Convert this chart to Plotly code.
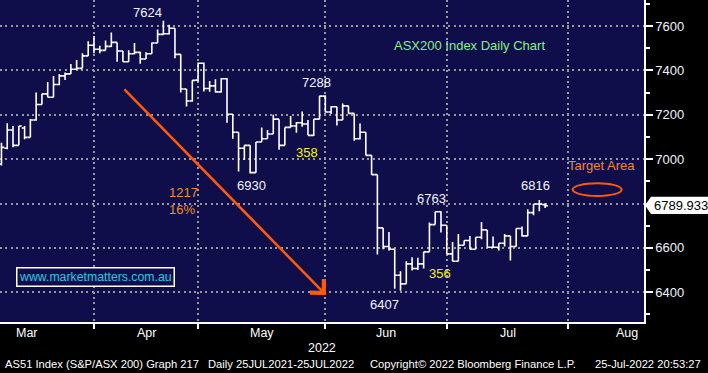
import pandas as pd
import plotly.graph_objects as go

# ---------------- data ----------------
open_ = [6978, 7049, 7131, 7062, 7140, 7098, 7176, 7246, 7294, 7279, 7336, 7375, 7384, 7405, 7409, 7465,
         7513, 7495, 7490, 7508, 7526, 7487, 7439, 7475, 7481, 7451, 7475, 7523, 7562, 7565, 7590, 7472, 7316, 7262,
         7356, 7432, 7318, 7330, 7303, 7362, 7202, 7121, 7049, 7062, 6939, 7077, 7092, 7113, 7180, 7062, 7143, 7149,
         7164, 7158, 7107, 7180,
         7284, 7212, 7236, 7176, 7240, 7206, 7092, 7121, 7017, 6930, 6690, 6606, 6594, 6477, 6438, 6528, 6507, 6528,
         6582, 6705, 6763,
         6702, 6573, 6540, 6612, 6633, 6594, 6648, 6681, 6603, 6603, 6621, 6654, 6606, 6687, 6654, 6759, 6798, 6795]
high = [7074, 7162, 7149, 7149, 7149, 7181, 7300, 7294, 7348, 7375, 7384, 7390, 7429, 7447, 7477, 7531,
        7555, 7511, 7535, 7571, 7526, 7487, 7490, 7523, 7484, 7481, 7526, 7584, 7624, 7605, 7590, 7472, 7316, 7355,
        7435, 7435, 7352, 7360, 7366, 7365, 7202, 7121, 7062, 7062, 7077, 7143, 7131, 7200, 7180, 7143, 7194, 7167,
        7215, 7176, 7180, 7285,
        7288, 7238, 7236, 7251, 7240, 7206, 7161, 7121, 7017, 6930, 6690, 6672, 6594, 6495, 6540, 6558, 6555, 6582,
        6714, 6763, 6765,
        6702, 6627, 6663, 6633, 6654, 6648, 6717, 6681, 6651, 6621, 6663, 6654, 6687, 6696, 6774, 6798, 6816, 6801]
low = [6971, 7044, 7053, 7062, 7089, 7098, 7173, 7246, 7279, 7279, 7333, 7357, 7384, 7405, 7409, 7465,
       7477, 7477, 7490, 7505, 7439, 7439, 7439, 7472, 7430, 7451, 7475, 7523, 7560, 7562, 7454, 7300, 7237, 7259,
       7350, 7305, 7303, 7300, 7300, 7164, 7092, 6944, 6996, 6935, 6939, 7077, 7092, 7113, 7042, 7062, 7143, 7119,
       7146, 7107, 7104, 7180,
       7210, 7203, 7152, 7176, 7206, 7083, 7088, 7017, 6930, 6570, 6594, 6588, 6416, 6407, 6438, 6498, 6500, 6507,
       6582, 6705, 6669,
       6573, 6540, 6540, 6612, 6594, 6594, 6639, 6603, 6603, 6588, 6606, 6543, 6606, 6651, 6654, 6747, 6765, 6780]
close = [7053, 7131, 7062, 7149, 7098, 7176, 7246, 7294, 7279, 7336, 7375, 7384, 7405, 7409, 7465, 7513,
         7495, 7490, 7508, 7526, 7487, 7439, 7475, 7481, 7451, 7475, 7523, 7562, 7565, 7590, 7472, 7316, 7262, 7355,
         7432, 7318, 7330, 7303, 7362, 7202, 7121, 7049, 7062, 6939, 7077, 7092, 7113, 7180, 7062, 7143, 7149, 7164,
         7158, 7107, 7180, 7284,
         7212, 7236, 7176, 7240, 7206, 7092, 7121, 7017, 6930, 6690, 6606, 6594, 6477, 6438, 6528, 6507, 6528, 6582,
         6705, 6763, 6702,
         6573, 6540, 6612, 6633, 6594, 6648, 6681, 6603, 6603, 6621, 6654, 6606, 6687, 6654, 6759, 6798, 6798, 6789.933]

holidays = ["2022-04-15", "2022-04-18", "2022-04-25", "2022-06-13"]
calendar = [d for d in pd.bdate_range("2022-03-10", "2022-08-31") if d.strftime("%Y-%m-%d") not in holidays]
dates = calendar[:len(close)]
month_names = ["Mar", "Apr", "May", "Jun", "Jul", "Aug"]
y_ticks = [6400, 6600, 6800, 7000, 7200, 7400, 7600]
y_minor = [6300, 6500, 6700, 6900, 7100, 7300, 7500, 7700]
last_price = 6789.933

# ---------------- derived positions ----------------
idx = list(range(len(close)))
month_start = []
for i in range(1, len(calendar)):
    if calendar[i].month != calendar[i - 1].month:
        month_start.append(i)

BG = "#100e4a"
FONT = "Liberation Sans, Arial, sans-serif"
WHITE_TXT = "#f0f4ff"

fig = go.Figure(go.Ohlc(
    x=idx, open=open_, high=high, low=low, close=close,
    text=[d.strftime("%d %b %Y") for d in dates],
    increasing=dict(line=dict(color="white", width=1.6)),
    decreasing=dict(line=dict(color="white", width=1.6)),
    tickwidth=0.5, showlegend=False,
))

grid = dict(showgrid=True, gridcolor="#9a9a9a", gridwidth=2, griddash="2px,3.4px")

fig.update_layout(
    width=708, height=373,
    margin=dict(l=0, r=64, t=0, b=51),
    paper_bgcolor="black", plot_bgcolor=BG,
    font=dict(family=FONT, color="white", size=13),
    xaxis=dict(range=[-0.25, 111.1], tickmode="array", tickvals=month_start, ticktext=[""] * len(month_start),
               ticks="outside", ticklen=5, tickwidth=1.5, tickcolor="white",
               showline=True, linecolor="white", linewidth=1.5, zeroline=False,
               rangeslider=dict(visible=False), **grid),
    yaxis=dict(range=[6266, 7717], side="right", tickmode="array", tickvals=y_ticks,
               ticktext=[("" if v == 6800 else str(v)) for v in y_ticks],
               ticks="outside", ticklen=7, tickwidth=2, tickcolor="white",
               tickfont=dict(size=13, color=WHITE_TXT),
               minor=dict(tickvals=y_minor, ticks="outside", ticklen=4, tickwidth=1.5, tickcolor="white", showgrid=False),
               showline=True, linecolor="white", linewidth=1.5, zeroline=False, **grid),
)

ann = []
def txt(x, y, s, color=WHITE_TXT, size=13):
    ann.append(dict(x=x, y=y, xref="x", yref="y", text=s, showarrow=False,
                    font=dict(color=color, size=size, family=FONT), xanchor="center", yanchor="middle"))

txt(25.3, 7659, "7624")
txt(54.4, 7345, "7288")
txt(52.8, 7029, "358", color="#f4f020")
txt(43.3, 6879, "6930")
txt(31.5, 6849, "1217", color="#e8902c")
txt(31.3, 6775, "16%", color="#e8902c")
txt(74.4, 6824, "6763")
txt(75.8, 6485, "356", color="#f4f020")
txt(66.2, 6347, "6407")
txt(92.4, 6879, "6816")
txt(81.0, 7514, "ASX200 Index Daily Chart", color="#86f086")
txt(103.7, 6971, "Target Area", color="#f08a2c")

ann.append(dict(x=16.3, y=6467, xref="x", yref="y", text="www.marketmatters.com.au", showarrow=False,
                font=dict(color="#22cde6", size=12.3, family=FONT), bordercolor="white", borderwidth=1.5,
                borderpad=1.5, bgcolor=BG))

# trend arrow
ann.append(dict(x=56.1, y=6388, ax=21.0, ay=7321, xref="x", yref="y", axref="x", ayref="y",
                text="", showarrow=True, arrowhead=4, arrowsize=1.5, arrowwidth=2.5, arrowcolor="#ff5a0a",
                standoff=0, startstandoff=0))

# month labels
month_x = [4.4, 25.0, 45.0, 66.5, 87.5, 108.2]
for m, xv in zip(month_names, month_x):
    ann.append(dict(x=xv, y=0, xref="x", yref="paper", yshift=-11, text=m, showarrow=False,
                    font=dict(color="white", size=12.5, family=FONT), xanchor="center", yanchor="middle"))
ann.append(dict(x=55.4, y=0, xref="x", yref="paper", yshift=-25.5, text="2022", showarrow=False,
                font=dict(color="white", size=12.5, family=FONT), xanchor="center", yanchor="middle"))

# footer
footer = [(3, "AS51 Index (S&P/ASX 200) Graph 217"), (206, "Daily 25JUL2021-25JUL2022"),
          (368, "Copyright© 2022 Bloomberg Finance L.P."), (593, "25-Jul-2022 20:53:27")]
for px, s in footer:
    ann.append(dict(x=px / 644, y=0, xref="paper", yref="paper", yshift=-42.3, text=s, showarrow=False,
                    font=dict(color="white", size=11.2, family=FONT), xanchor="left", yanchor="middle"))

# last price label
ann.append(dict(x=652 / 644, y=1 - 205.3 / 322, xref="paper", yref="paper", text=f"{last_price:.3f}",
                showarrow=False, font=dict(color="black", size=13, family=FONT), xanchor="left", yanchor="middle"))

fig.update_layout(annotations=ann)

fig.add_shape(type="path", xref="paper", yref="paper",
              path="M 1.0016,0.3624 L 1.0109,0.3891 L 1.0994,0.3891 L 1.0994,0.3354 L 1.0109,0.3354 Z",
              fillcolor="white", line=dict(width=0), layer="above")
fig.add_shape(type="circle", xref="x", yref="y", x0=98.76, x1=107.23, y0=6834, y1=6891,
              line=dict(color="#ff5a0a", width=2))

fig.write_html("out.html", config={"displayModeBar": False},
               post_script="document.body.style.margin='0';document.body.style.background='black';")
